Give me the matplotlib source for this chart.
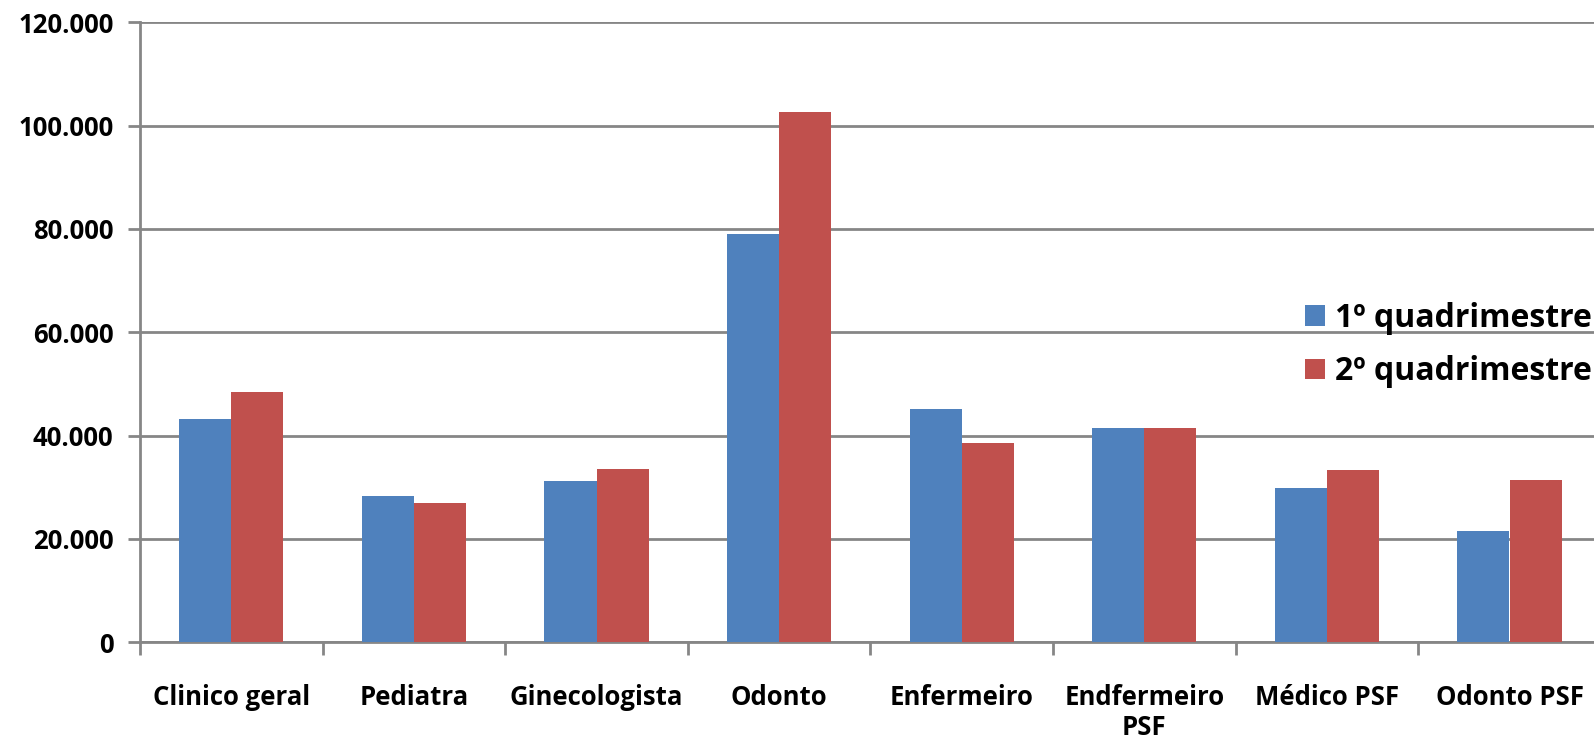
import numpy as np
import matplotlib
matplotlib.use('Agg')
import matplotlib.pyplot as plt
from matplotlib.ticker import FuncFormatter, FixedLocator

categorias = ['Clinico geral', 'Pediatra', 'Ginecologista', 'Odonto', 'Enfermeiro',
              'Endfermeiro\nPSF', 'Médico PSF', 'Odonto PSF']
quad1 = [43280, 28310, 31210, 79020, 45090, 41480, 29800, 21540]
quad2 = [48390, 26900, 33580, 102700, 38630, 41480, 33350, 31350]
series = ['1º quadrimestre', '2º quadrimestre']

plt.rcParams['font.family'] = ['Open Sans', 'DejaVu Sans']
plt.rcParams['font.weight'] = 'bold'

fig = plt.figure(figsize=(15.94, 7.44), dpi=100)
# eixo vai um pouco além da borda direita, como no original
ax = fig.add_axes([140 / 1594, (744 - 642.3) / 744, 1454 / 1594, 620 / 744])

x = np.arange(len(categorias))
w = 0.285
ax.bar(x - w / 2, quad1, w, color='#4F81BD', label=series[0], zorder=3)
ax.bar(x + w / 2, quad2, w, color='#C0504D', label=series[1], zorder=3)

ax.set_xlim(-0.5, -0.5 + 1454 / 182.6)
ax.set_ylim(0, 120000)
ax.set_yticks(np.arange(0, 120001, 20000))
ax.yaxis.set_major_formatter(FuncFormatter(lambda v, p: f'{int(v):,}'.replace(',', '.')))
ax.grid(axis='y', color='#868686', linewidth=2, zorder=0)

ax.set_xticks(x)
ax.set_xticklabels(categorias, fontsize=18.5, fontweight='bold', linespacing=1.15)
ax.xaxis.set_minor_locator(FixedLocator(np.arange(-0.5, len(categorias), 1)))
ax.tick_params(axis='x', which='major', length=0, pad=30)
ax.tick_params(axis='x', which='minor', length=9, width=2, color='#868686')
ax.tick_params(axis='y', length=9, width=2, color='#868686', labelsize=18.5, pad=10)
for lab in ax.get_yticklabels():
    lab.set_fontweight('bold')

for s in ['top', 'right']:
    ax.spines[s].set_visible(False)
for s in ['left', 'bottom']:
    ax.spines[s].set_color('#868686')
    ax.spines[s].set_linewidth(2)

leg = ax.legend(loc='center left', bbox_to_anchor=(1165 / 1454, 0.4795), frameon=False,
                prop={'size': 23, 'weight': 'bold'}, handlelength=0.62, handleheight=0.62,
                handletextpad=0.32, labelspacing=0.65, borderaxespad=0, borderpad=0)

fig.savefig('out.png', dpi=100)
